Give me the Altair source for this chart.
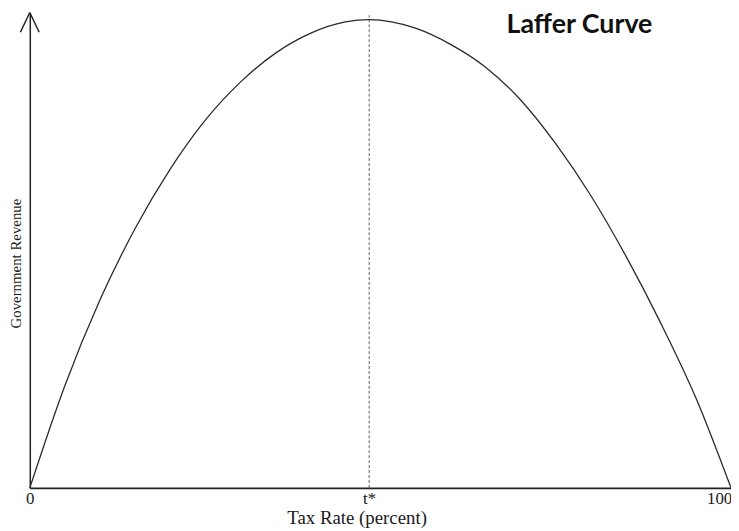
import altair as alt
import pandas as pd

# Curve (tax rate in %, revenue on a 0-100 scale)
tax_rate = [0, 5, 10, 15, 20, 25, 30, 35, 40, 45, 48.4,
            55, 60, 65, 70, 75, 80, 85, 90, 95, 100]
revenue = [0, 21.5, 39.5, 54.5, 67.0, 77.3, 85.3, 91.4, 95.6, 98.0, 98.5,
           96.7, 93.3, 88.5, 81.6, 72.4, 61.5, 48.8, 34.6, 18.9, 0]
t_star = 48.4
t_star_top = 99.4
tick_values = [0, 48.4, 100]
title_text = "Laffer Curve"
x_title = "Tax Rate (percent)"
y_title = "Government Revenue"

serif = "Liberation Serif"
ink = "#1a1a1a"

curve_df = pd.DataFrame({"tax": tax_rate, "rev": revenue})
x_scale = alt.Scale(domain=[0, 100], nice=False, zero=False)
y_scale = alt.Scale(domain=[0, 100], nice=False)

x_axis = alt.Axis(
    values=tick_values,
    labelExpr="datum.value == 0 ? '0' : datum.value == 100 ? '100' : 't*'",
    title=x_title, grid=False, ticks=False, tickSize=0,
    domainColor="#222", domainWidth=2,
    labelFont=serif, labelFontSize=17, labelColor=ink,
    labelPadding=16, labelBaseline="alphabetic", labelFlush=False,
    labelOverlap=False,
    labelOffset={"condition": {"test": "datum.value == 100", "value": -12},
                 "value": 0},
    titleFont=serif, titleFontSize=19, titleFontWeight="normal",
    titleColor=ink, titleX=330, titleY=36, titleAlign="center",
    titleBaseline="alphabetic")
y_axis = alt.Axis(
    labels=False, ticks=False, tickSize=0, grid=False,
    domainColor="#222", domainWidth=1.5,
    title=y_title, titleFont=serif, titleFontSize=15,
    titleFontWeight="normal", titleColor=ink, titleAngle=270,
    titleX=-14, titleY=253, titleAlign="center", titleBaseline="middle")

curve = alt.Chart(curve_df).mark_line(
    color="#2a2a2a", strokeWidth=1.3, interpolate="monotone"
).encode(
    x=alt.X("tax:Q", scale=x_scale, axis=x_axis, title=x_title),
    y=alt.Y("rev:Q", scale=y_scale, axis=y_axis, title=y_title),
)

tline_df = pd.DataFrame({"tax": [t_star], "rev": [0], "hi": [t_star_top]})
dashed = alt.Chart(tline_df).mark_rule(
    strokeDash=[3, 2], strokeWidth=0.8, color="#333"
).encode(
    x=alt.X("tax:Q", scale=x_scale, axis=x_axis, title=x_title),
    y=alt.Y("rev:Q", scale=y_scale, axis=y_axis, title=y_title),
    y2="hi:Q",
)

one = pd.DataFrame({"a": [0]})
wing_left = alt.Chart(one).mark_rule(color="#222", strokeWidth=1.5).encode(
    x=alt.value(0), y=alt.value(0), x2=alt.value(-9.5), y2=alt.value(20))
wing_right = alt.Chart(one).mark_rule(color="#222", strokeWidth=1.5).encode(
    x=alt.value(0), y=alt.value(0), x2=alt.value(9.5), y2=alt.value(20))

title_df = pd.DataFrame({"label": [title_text]})
title = alt.Chart(title_df).mark_text(
    font="Lato", fontWeight="bold", fontSize=27, color="#111",
    align="center", baseline="alphabetic"
).encode(text="label:N", x=alt.value(555), y=alt.value(20.5))

chart = alt.layer(curve, dashed, wing_left, wing_right, title).properties(
    width=708, height=480,
    autosize=alt.AutoSizeParams(type="none"),
    padding={"left": 22, "top": 2, "right": 0, "bottom": 40},
    background="white",
).configure_view(stroke=None)

chart.save("out.html", embed_options={"renderer": "svg", "actions": False})
